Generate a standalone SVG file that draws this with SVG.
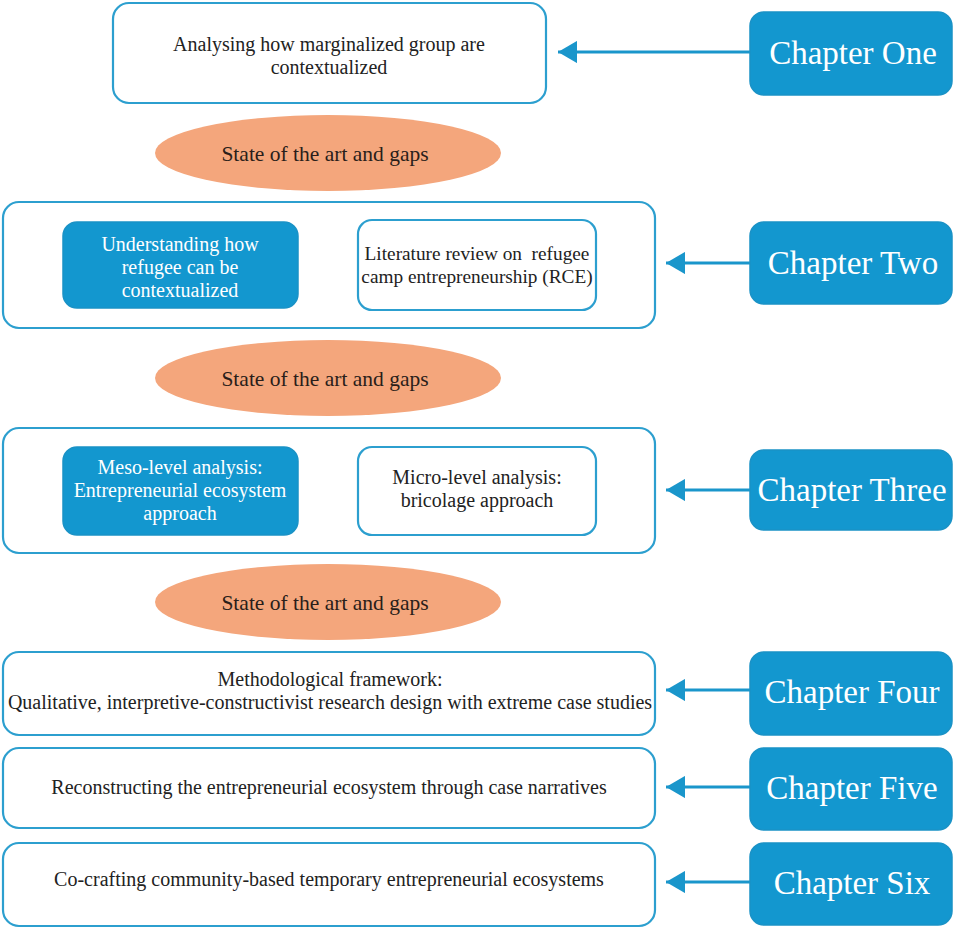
<svg xmlns="http://www.w3.org/2000/svg" width="954" height="929" viewBox="0 0 954 929">
<style>
.frame{fill:#ffffff;stroke:#2c9fcf;stroke-width:2.2}
.blue{fill:#1397cf;stroke:#1a92c6;stroke-width:1.5}
.oval{fill:#f4a67c}
.t{font-family:"Liberation Serif","Times New Roman",serif;font-size:20px;fill:#222;text-anchor:middle}
.tw{font-family:"Liberation Serif","Times New Roman",serif;font-size:20px;fill:#ffffff;text-anchor:middle}
.ov{font-family:"Liberation Serif","Times New Roman",serif;font-size:21.5px;fill:#2a1e1a;text-anchor:middle}
.lit{font-size:19.3px}
.ch{font-family:"Liberation Serif","Times New Roman",serif;font-size:33px;fill:#ffffff;text-anchor:middle}
.conn{stroke:#1a96cb;stroke-width:3.2;fill:none}
</style>
<defs>
<marker id="ah" markerWidth="6" markerHeight="7" refX="6" refY="3.5" orient="auto" markerUnits="strokeWidth">
<path d="M0,0 L6,3.5 L0,7 Z" fill="#1a96cb"/>
</marker>
</defs>

<g id="ch1-content">
<rect class="frame" x="113" y="3" width="433" height="100" rx="16"/>
<text class="t" x="329" y="51">Analysing how marginalized group are</text>
<text class="t" x="329" y="74">contextualized</text>
</g>
<g id="ch1"><rect class="blue" x="750" y="12" width="202" height="83" rx="14"/><text class="ch" x="853" y="64">Chapter One</text></g>

<g id="gap1"><ellipse class="oval" cx="328" cy="153" rx="173" ry="38"/><text class="ov" x="325" y="161">State of the art and gaps</text></g>

<g id="ch2-content">
<rect class="frame" x="3" y="202" width="652" height="126" rx="16"/>
</g>
<g id="ch2-a"><rect class="blue" x="63" y="222" width="235" height="86" rx="14"/>
<text class="tw" x="180" y="251">Understanding how</text>
<text class="tw" x="180" y="274">refugee can be</text>
<text class="tw" x="180" y="297">contextualized</text></g>
<g id="ch2-b"><rect class="frame" x="358" y="220" width="238" height="90" rx="14"/>
<text class="t lit" x="477" y="260" xml:space="preserve">Literature review on  refugee</text>
<text class="t lit" x="477" y="283">camp entrepreneurship (RCE)</text></g>
<g id="ch2"><rect class="blue" x="750" y="222" width="202" height="82" rx="14"/><text class="ch" x="853" y="274">Chapter Two</text></g>

<g id="gap2"><ellipse class="oval" cx="328" cy="378" rx="173" ry="38"/><text class="ov" x="325" y="386">State of the art and gaps</text></g>

<g id="ch3-content">
<rect class="frame" x="3" y="428" width="652" height="125" rx="16"/>
</g>
<g id="ch3-a"><rect class="blue" x="63" y="447" width="235" height="88" rx="14"/>
<text class="tw" x="180" y="474">Meso-level analysis:</text>
<text class="tw" x="180" y="497">Entrepreneurial ecosystem</text>
<text class="tw" x="180" y="520">approach</text></g>
<g id="ch3-b"><rect class="frame" x="358" y="447" width="238" height="88" rx="14"/>
<text class="t" x="477" y="484">Micro-level analysis:</text>
<text class="t" x="477" y="507">bricolage approach</text></g>
<g id="ch3"><rect class="blue" x="750" y="450" width="202" height="80" rx="14"/><text class="ch" x="852" y="501">Chapter Three</text></g>

<g id="gap3"><ellipse class="oval" cx="328" cy="602" rx="173" ry="38"/><text class="ov" x="325" y="610">State of the art and gaps</text></g>

<g id="ch4-content"><rect class="frame" x="3" y="652" width="652" height="83" rx="16"/>
<text class="t" x="330" y="686">Methodological framework:</text>
<text class="t" x="330" y="709">Qualitative, interpretive-constructivist research design with extreme case studies</text></g>
<g id="ch4"><rect class="blue" x="750" y="652" width="202" height="83" rx="14"/><text class="ch" x="852" y="703">Chapter Four</text></g>

<g id="ch5-content"><rect class="frame" x="3" y="748" width="652" height="80" rx="16"/>
<text class="t" x="329" y="794">Reconstructing the entrepreneurial ecosystem through case narratives</text></g>
<g id="ch5"><rect class="blue" x="750" y="748" width="202" height="82" rx="14"/><text class="ch" x="852" y="799">Chapter Five</text></g>

<g id="ch6-content"><rect class="frame" x="3" y="843" width="652" height="83" rx="16"/>
<text class="t" x="329" y="886">Co-crafting community-based temporary entrepreneurial ecosystems</text></g>
<g id="ch6"><rect class="blue" x="750" y="843" width="202" height="82" rx="14"/><text class="ch" x="852" y="894">Chapter Six</text></g>

<g id="connectors">
<line class="conn" x1="750" y1="52" x2="558" y2="52" marker-end="url(#ah)"/>
<line class="conn" x1="750" y1="263" x2="666" y2="263" marker-end="url(#ah)"/>
<line class="conn" x1="750" y1="490" x2="666" y2="490" marker-end="url(#ah)"/>
<line class="conn" x1="750" y1="690" x2="666" y2="690" marker-end="url(#ah)"/>
<line class="conn" x1="750" y1="787" x2="666" y2="787" marker-end="url(#ah)"/>
<line class="conn" x1="750" y1="882" x2="666" y2="882" marker-end="url(#ah)"/>
</g>
</svg>
